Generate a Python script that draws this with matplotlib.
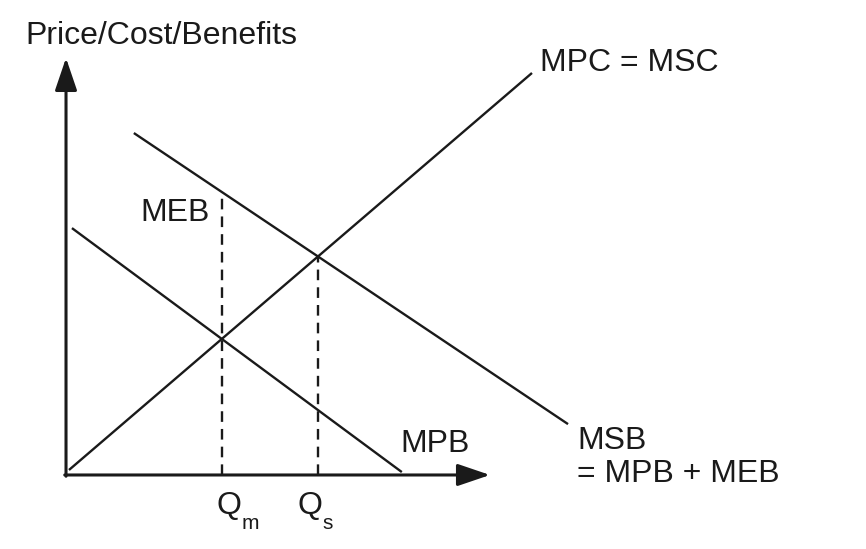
import numpy as np
import matplotlib
matplotlib.use("Agg")
import matplotlib.pyplot as plt

plt.rcParams['font.family'] = ['Liberation Sans', 'DejaVu Sans']

# Curves (quantity, price) endpoints
mpc_q = [0.7, 109.9]
mpc_p = [1.2, 96.4]
mpb_q = [1.4, 79.2]
mpb_p = [59.2, 0.7]
msb_q = [16.0, 118.4]
msb_p = [82.0, 12.2]

q_m = 36.8
q_s = 59.4

labels = {
    "axis": "Price/Cost/Benefits",
    "mpc": "MPC = MSC",
    "meb": "MEB",
    "mpb": "MPB",
    "msb1": "MSB",
    "msb2": "= MPB + MEB",
}

fig = plt.figure(figsize=(8.66, 5.49), dpi=100)
ax = fig.add_axes([0, 0, 1, 1])
ax.set_xlim(-15.57, 188.68)
ax.set_ylim(-17.75, 113.9)
ax.axis('off')

col = '#1a1a1a'
lw = 1.7

# Axes with arrows
ax.annotate('', xy=(0, 100), xytext=(0, -0.3),
            arrowprops=dict(arrowstyle='-|>,head_length=1.0,head_width=0.34',
                            mutation_scale=20, lw=2.2, color=col, shrinkA=0, shrinkB=0))
ax.annotate('', xy=(100, 0), xytext=(-0.3, 0),
            arrowprops=dict(arrowstyle='-|>,head_length=1.0,head_width=0.34',
                            mutation_scale=20, lw=2.2, color=col, shrinkA=0, shrinkB=0))

ax.plot(mpc_q, mpc_p, color=col, lw=lw, solid_capstyle='butt')
ax.plot(mpb_q, mpb_p, color=col, lw=lw, solid_capstyle='butt')
ax.plot(msb_q, msb_p, color=col, lw=lw, solid_capstyle='butt')

top_m = np.interp(q_m, msb_q, msb_p)
top_s = np.interp(q_s, msb_q, msb_p)
ax.plot([q_m, q_m], [0, top_m], color=col, lw=lw, dashes=(4.5, 3))
ax.plot([q_s, q_s], [0, top_s], color=col, lw=lw, dashes=(4.5, 3))

fs = 23
ax.text(-9.67, 105.3, labels["axis"], fontsize=fs, color=col, ha='left', va='center')
ax.text(111.8, 98.9, labels["mpc"], fontsize=fs, color=col, ha='left', va='center')
ax.text(17.5, 62.8, labels["meb"], fontsize=fs, color=col, ha='left', va='center')
ax.text(78.8, 7.4, labels["mpb"], fontsize=fs, color=col, ha='left', va='center')
ax.text(120.5, 8.2, labels["msb1"], fontsize=fs, color=col, ha='left', va='center')
ax.text(120.5, 0.24, labels["msb2"], fontsize=fs, color=col, ha='left', va='center')

ax.text(35.6, -7.4, 'Q', fontsize=fs, color=col, ha='left', va='center')
ax.text(41.5, -11.6, 'm', fontsize=15, color=col, ha='left', va='center')
ax.text(54.5, -7.4, 'Q', fontsize=fs, color=col, ha='left', va='center')
ax.text(60.4, -11.6, 's', fontsize=15, color=col, ha='left', va='center')

fig.savefig('out.png', dpi=100, facecolor='white')
